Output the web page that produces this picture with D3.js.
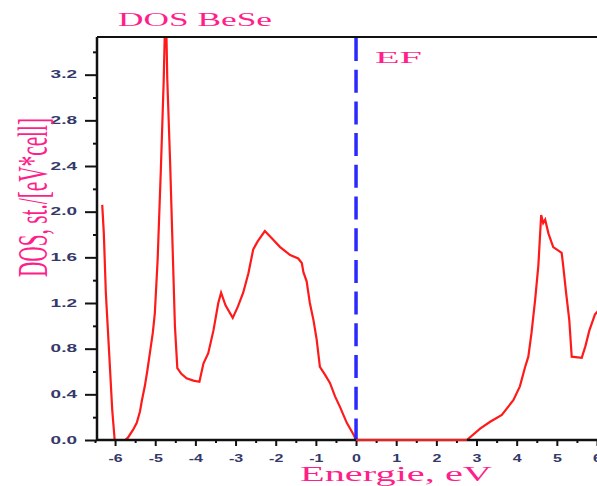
<!DOCTYPE html>
<html>
<head>
<meta charset="utf-8">
<script src="https://cdn.jsdelivr.net/npm/d3@7"></script>
<style>
  html, body { margin: 0; padding: 0; background: #ffffff; }
  svg { display: block; }
</style>
</head>
<body>
<svg id="chart" width="597" height="486"></svg>
<script>
// Density of states of BeSe around the Fermi level
const energy = [
  -6.32, -6.28, -6.23, -6.15, -6.07, -6.01, -5.75, -5.68, -5.55, -5.46,
  -5.38, -5.33, -5.26, -5.20, -5.13, -5.06, -5.01, -4.94, -4.86, -4.79,
  -4.74, -4.70, -4.63, -4.57, -4.51, -4.45, -4.35, -4.22, -4.05, -3.90,
  -3.80, -3.68, -3.55, -3.43, -3.36, -3.25, -3.07, -2.94, -2.81, -2.68,
  -2.56, -2.45, -2.27, -2.08, -1.89, -1.64, -1.44, -1.35, -1.31, -1.23,
  -1.15, -1.06, -0.98, -0.90, -0.77, -0.65, -0.52, -0.40, -0.23, -0.05,
   0.00,  2.76,  3.09,  3.34,  3.63,  3.92,  4.08,  4.21,  4.29,  4.37,
   4.46,  4.54,  4.61,  4.66,  4.71,  4.79,  4.91,  5.12,  5.16,  5.23,
   5.31,  5.37,  5.62,  5.71,  5.81,  5.95,  6.05
];
const dos = [
  2.06, 1.81, 1.29, 0.78, 0.26, 0.00, 0.00, 0.02, 0.09, 0.15,
  0.25, 0.35, 0.47, 0.60, 0.77, 0.94, 1.11, 1.58, 2.37, 3.14,
  3.90, 3.16, 2.44, 1.72, 1.00, 0.63, 0.58, 0.54, 0.52, 0.51,
  0.67, 0.76, 0.96, 1.20, 1.29, 1.18, 1.07, 1.17, 1.29, 1.46,
  1.67, 1.74, 1.83, 1.76, 1.69, 1.62, 1.59, 1.55, 1.47, 1.39,
  1.20, 1.05, 0.88, 0.64, 0.57, 0.50, 0.38, 0.29, 0.15, 0.04,
  0.00, 0.00, 0.10, 0.16, 0.22, 0.35, 0.47, 0.64, 0.73, 0.94,
  1.23, 1.53, 1.97, 1.90, 1.93, 1.81, 1.69, 1.64, 1.52, 1.29,
  1.05, 0.73, 0.72, 0.82, 0.96, 1.10, 1.14
];

const xMajorTicks = [-6, -5, -4, -3, -2, -1, 0, 1, 2, 3, 4, 5, 6];
const xMinorTicks = [-6.5, -5.5, -4.5, -3.5, -2.5, -1.5, -0.5, 0.5, 1.5, 2.5, 3.5, 4.5, 5.5];
const yMajorTicks = [0.0, 0.4, 0.8, 1.2, 1.6, 2.0, 2.4, 2.8, 3.2];
const yMinorTicks = [0.2, 0.6, 1.0, 1.4, 1.8, 2.2, 2.6, 3.0, 3.4];
const fermiLevel = 0;

const titleText = "DOS BeSe";
const xLabelText = "Energie, eV";
const yLabelText = "DOS, st./[eV*cell]";
const fermiText = "EF";

(function draw() {
  const svg = d3.select("#chart");
  const plotLeft = 97, plotRight = 597, plotTop = 37, plotBottom = 440;

  const x = d3.scaleLinear().domain([-6.45, 6.0]).range([plotLeft, plotRight]);
  const y = d3.scaleLinear().domain([0, 3.53]).range([plotBottom, plotTop]);

  const pink = "#ff1f8a";
  const tickColor = "#34396a";
  const serif = "'Liberation Serif', 'Times New Roman', serif";
  const sans = "'Liberation Sans', Arial, sans-serif";

  svg.append("defs").append("clipPath").attr("id", "plotClip")
    .append("rect")
    .attr("x", plotLeft).attr("y", plotTop)
    .attr("width", plotRight - plotLeft).attr("height", plotBottom - plotTop);

  const line = d3.line().x((d, i) => x(energy[i])).y((d, i) => y(dos[i]));

  // DOS curve
  svg.append("path")
    .datum(dos)
    .attr("clip-path", "url(#plotClip)")
    .attr("fill", "none")
    .attr("stroke", "#ff1a1a")
    .attr("stroke-width", 2.2)
    .attr("d", line);

  // Fermi level marker
  svg.append("line")
    .attr("x1", x(fermiLevel)).attr("x2", x(fermiLevel))
    .attr("y1", plotTop + 1).attr("y2", plotBottom)
    .attr("stroke", "#2a2aff")
    .attr("stroke-width", 3.5)
    .attr("stroke-dasharray", "23,8.7");

  // Axes
  const yAxisMajor = d3.axisLeft(y).tickValues(yMajorTicks).tickSize(12).tickPadding(8)
    .tickFormat(d3.format(".1f"));
  const yAxisMinor = d3.axisLeft(y).tickValues(yMinorTicks).tickSize(4).tickFormat("");
  const xAxisMajor = d3.axisBottom(x).tickValues(xMajorTicks).tickSize(6).tickFormat(d3.format("d"));
  const xAxisMinor = d3.axisBottom(x).tickValues(xMinorTicks).tickSize(3).tickFormat("");

  function styleAxis(g) {
    g.select(".domain").remove();
    g.selectAll(".tick line").attr("stroke", "#111").attr("stroke-width", 2);
  }

  svg.append("g").attr("transform", `translate(${plotLeft},0)`).call(yAxisMinor).call(styleAxis);
  const gy = svg.append("g").attr("transform", `translate(${plotLeft},0)`).call(yAxisMajor).call(styleAxis);
  gy.selectAll(".tick text")
    .attr("font-family", sans)
    .attr("font-size", 10)
    .attr("font-weight", "bold")
    .attr("fill", tickColor)
    .attr("x", -20 / 1.9)
    .attr("dy", "0.3em")
    .attr("transform", "scale(1.9,1)");

  svg.append("g").attr("transform", `translate(0,${plotBottom})`).call(xAxisMinor).call(styleAxis);
  const gx = svg.append("g").attr("transform", `translate(0,${plotBottom})`).call(xAxisMajor).call(styleAxis);
  gx.selectAll(".tick text")
    .attr("font-family", sans)
    .attr("font-size", 10)
    .attr("font-weight", "bold")
    .attr("fill", tickColor)
    .attr("y", 22)
    .attr("dy", 0)
    .attr("transform", "scale(1.6,1)")
    .text(d => d < 0 ? "-" + Math.abs(d) : String(d));
  // keep labels centred on their ticks after the horizontal stretch
  gx.selectAll(".tick text").attr("x", 0);

  // Frame lines
  svg.append("line").attr("x1", plotLeft).attr("x2", plotRight).attr("y1", plotBottom).attr("y2", plotBottom)
    .attr("stroke", "#111").attr("stroke-width", 2.5);
  svg.append("line").attr("x1", plotLeft).attr("x2", plotLeft).attr("y1", plotTop).attr("y2", plotBottom)
    .attr("stroke", "#111").attr("stroke-width", 2.5);
  svg.append("line").attr("x1", plotLeft).attr("x2", plotRight).attr("y1", plotTop).attr("y2", plotTop)
    .attr("stroke", "#111").attr("stroke-width", 2);

  // Zero-DOS stretch inside the gap, drawn over the axis line
  svg.append("path")
    .datum(dos)
    .attr("fill", "none")
    .attr("stroke", "#ff1a1a")
    .attr("stroke-width", 2.2)
    .attr("d", d3.line()
      .defined((d, i) => energy[i] >= 0 && energy[i] <= 2.76)
      .x((d, i) => x(energy[i])).y((d, i) => y(dos[i])));

  // Texts
  svg.append("text")
    .attr("x", 118).attr("y", 26)
    .attr("font-family", serif).attr("font-size", 19.7)
    .attr("fill", pink)
    .attr("textLength", 154).attr("lengthAdjust", "spacingAndGlyphs")
    .text(titleText);

  svg.append("text")
    .attr("x", 375).attr("y", 63)
    .attr("font-family", serif).attr("font-size", 16.5)
    .attr("fill", pink)
    .attr("textLength", 47).attr("lengthAdjust", "spacingAndGlyphs")
    .text(fermiText);

  svg.append("text")
    .attr("x", 300).attr("y", 481)
    .attr("font-family", serif).attr("font-size", 22)
    .attr("fill", pink)
    .attr("textLength", 192).attr("lengthAdjust", "spacingAndGlyphs")
    .text(xLabelText);

  svg.append("g")
    .attr("transform", "translate(47,197.5) scale(2,1) rotate(-90)")
    .append("text")
    .attr("text-anchor", "middle")
    .attr("font-family", serif).attr("font-size", 21.3)
    .attr("fill", pink)
    .text(yLabelText);
})();
</script>
</body>
</html>
